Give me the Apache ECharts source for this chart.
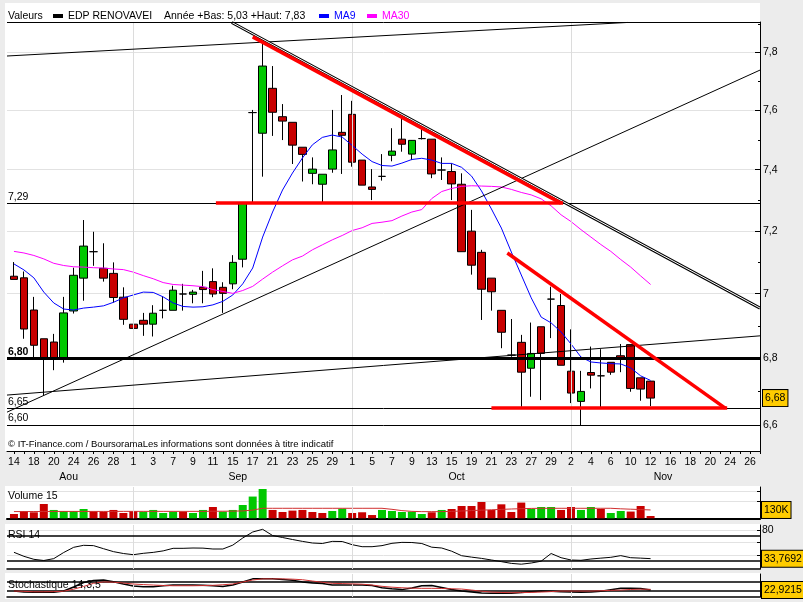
<!DOCTYPE html>
<html><head><meta charset="utf-8">
<script src="https://cdn.jsdelivr.net/npm/echarts@6/dist/echarts.min.js"></script>
<style>html,body{margin:0;padding:0;background:#ececec}#c{width:803px;height:602px}</style>
</head><body><div id="c"></div>
<script>
// ---- trading days (categories) ----
const dates = [
 '2009-08-14','2009-08-17','2009-08-18','2009-08-19','2009-08-20','2009-08-21','2009-08-24','2009-08-25','2009-08-26','2009-08-27','2009-08-28','2009-08-31',
 '2009-09-01','2009-09-02','2009-09-03','2009-09-04','2009-09-07','2009-09-08','2009-09-09','2009-09-10','2009-09-11','2009-09-14','2009-09-15','2009-09-16','2009-09-17','2009-09-18','2009-09-21','2009-09-22','2009-09-23','2009-09-24','2009-09-25','2009-09-28','2009-09-29','2009-09-30',
 '2009-10-01','2009-10-02','2009-10-05','2009-10-06','2009-10-07','2009-10-08','2009-10-09','2009-10-12','2009-10-13','2009-10-14','2009-10-15','2009-10-16','2009-10-19','2009-10-20','2009-10-21','2009-10-22','2009-10-23','2009-10-26','2009-10-27','2009-10-28','2009-10-29','2009-10-30',
 '2009-11-02','2009-11-03','2009-11-04','2009-11-05','2009-11-06','2009-11-09','2009-11-10','2009-11-11','2009-11-12','2009-11-13','2009-11-16','2009-11-17','2009-11-18','2009-11-19','2009-11-20','2009-11-23','2009-11-24','2009-11-25','2009-11-26','2009-11-27'
];
const monthNames = {'08':'Aou','09':'Sep','10':'Oct','11':'Nov'};

// ---- OHLC ----
const open  = [7.055,7.05,6.949,6.86,6.85,6.80,6.946,7.049,7.133,7.08, 7.064,6.989,6.905,6.917,6.905,6.948,6.948,6.999,6.998,7.02, 7.038,7.02,7.031,7.109,7.592,7.522,7.675,7.578,7.559,7.475, 7.388,7.352,7.402,7.525,7.586,7.432,7.343,7.378,7.448,7.502, 7.452,7.504,7.502,7.399,7.394,7.352,7.199,7.131,7.049,6.948, 6.81,6.849,6.77,6.897,6.983,6.963,6.761,6.67,6.757,6.747, 6.788,6.808,6.842,6.741,6.731];
const close = [7.045,6.89,6.84,6.80,6.80,6.94,7.058,7.151,7.133,7.049, 6.988,6.92,6.892,6.905,6.939,6.948,7.011,6.999,7.005,7.013, 6.999,7.001,7.099,7.29,7.592,7.752,7.593,7.563,7.482,7.451, 7.402,7.385,7.466,7.515,7.425,7.349,7.335,7.378,7.462,7.485, 7.498,7.504,7.386,7.399,7.353,7.133,7.09,7.014,7.006,6.88, 6.81,6.758,6.815,6.815,6.983,6.779,6.695,6.70,6.749,6.747, 6.758,6.798,6.709,6.707,6.68];
const low   = [7.045,6.86,6.80,6.687,6.764,6.787,6.938,6.978,7.088,7.038, 6.972,6.903,6.867,6.869,6.867,6.923,6.948,6.947,6.97,6.97, 6.989,6.94,7.014,7.083,7.29,7.377,7.513,7.499,7.419,7.361, 7.352,7.29,7.39,7.386,7.41,7.349,7.30,7.364,7.428,7.46, 7.432,7.501,7.372,7.366,7.30,7.133,7.06,6.918,6.947,6.831, 6.805,6.654,6.684,6.674,6.862,6.779,6.665,6.597,6.709,6.652, 6.75,6.758,6.699,6.672,6.656];
const high  = [7.10,7.07,6.99,6.86,6.875,6.99,7.082,7.235,7.197,7.16, 7.099,7.02,6.949,6.94,6.964,6.991,7.025,7.031,7.012,7.072, 7.08,7.036,7.122,7.29,7.601,7.83,7.752,7.621,7.559,7.475, 7.441,7.385,7.601,7.652,7.632,7.432,7.402,7.452,7.539,7.578, 7.499,7.539,7.502,7.441,7.421,7.388,7.268,7.139,7.049,6.948, 6.921,6.872,6.91,6.897,7.022,6.999,6.889,6.762,6.836,6.828, 6.788,6.844,6.842,6.741,6.731];

// ---- moving averages ----
const ma9  = [7.094,7.075,7.050,7.005,6.971,6.952,6.949,6.955,6.958,6.962, 6.973,6.987,6.996,7.005,7.004,6.990,6.971,6.960,6.958,6.959, 6.965,6.976,6.996,7.031,7.081,7.180,7.261,7.333,7.389,7.439, 7.483,7.508,7.516,7.509,7.481,7.452,7.427,7.414,7.412,7.422, 7.434,7.438,7.432,7.421,7.421,7.408,7.379,7.330,7.271,7.209, 7.132,7.059,6.987,6.927,6.909,6.881,6.844,6.804,6.789,6.786, 6.784,6.783,6.771,6.747,6.733];
const ma30 = [7.134,7.129,7.121,7.110,7.096,7.089,7.085,7.084,7.082,7.081, 7.078,7.076,7.068,7.057,7.047,7.035,7.029,7.027,7.025,7.022, 7.013,7.007,7.001,7.010,7.023,7.046,7.068,7.088,7.107,7.119, 7.139,7.155,7.171,7.185,7.201,7.210,7.224,7.228,7.233,7.248, 7.261,7.269,7.305,7.328,7.338,7.345,7.347,7.346,7.345,7.343, 7.335,7.325,7.317,7.304,7.281,7.252,7.230,7.204,7.180,7.156, 7.134,7.108,7.084,7.056,7.029];

// ---- volume (thousands) ----
const volume = [67,114,94,223,130,114,114,145,109,105, 130,83,114,105,130,83,105,105,83,130, 176,105,130,207,339,457,130,98,120,130, 98,83,114,151,83,94,51,130,114,98, 105,67,94,130,145,192,192,254,130,218, 98,245,145,176,176,130,176,130,176,145, 83,114,105,192,36];
const volMA15 = [105,105,106,106,107,107,107,107,107,107, 107,108,108,108,108,108,108,108,108,108, 110,110,112,115,128,156,156,156,156,156, 156,156,156,156,156,156,156,156,140,120, 108,104,104,104,108,114,120,127,133,139, 145,150,154,156,156,156,156,156,156,156, 156,148,142,136,130];

// ---- RSI 14 ----
const rsi14 = [43.9,37.5,32.7,30.8,33.8,43.6,51.9,55.1,54.6,49.7, 45.0,42.0,40.1,42.3,43.8,46.2,50.3,50.3,50.8,50.6, 49.2,49.2,55.4,66.8,76.4,80.7,70.8,67.6,64.4,61.4, 58.8,58.0,61.4,61.2,56.1,52.9,52.9,54.6,58.3,59.8, 59.6,58.0,52.1,50.8,45.7,38.5,36.2,34.2,31.6,29.0, 26.2,24.9,26.8,29.7,42.0,35.3,31.6,31.1,33.2,34.6, 35.9,38.6,35.3,34.6,33.7692];

// ---- Stochastique 14,3,5 ----
const stochK = [15,8,6,6,6,15,43,75,89,92, 80,64,50,45,45,52,57,57,57,56, 52,47,57,78,100,100,100,96,90,79, 72,68,57,57,57,57,54,38,31,25, 36,52,54,40,26,15,8,1,0,0, 0,5,10,15,13,10,8,6,8,14, 24,34,34,32,22.9215];
const stochD = [15,13,10,10,11,14,28,47,69,79, 77,71,64,60,57,54,52,52,52,53, 55,59,64,78,92,100,100,100,98,94, 85,76,69,67,65,63,57,48,42,38, 35,34,34,33,31,29,22,14,8,5, 3.5,4,5.6,8,11,15,15,15,15,17, 20,22,26,28,27];

// ---- axis ticks ----
const priceTicks = [6.6,6.8,7.0,7.2,7.4,7.6,7.8];
const priceMinorTicks = [6.6,6.7,6.8,6.9,7.0,7.1,7.2,7.3,7.4,7.5,7.6,7.7,7.8,7.9];
const rsiGridLines = [40,60,80];
const rsiLevels = [30,70];
const stochLevels = [20,80];
const volTicks = [260,420];

// ---- drawn annotations (date index, price) ----
const levels = [
  {price:7.29, label:'7,29', width:1},
  {price:6.80, label:'6,80', width:3},
  {price:6.65, label:'6,65', width:1},
  {price:6.60, label:'6,60', width:1}
];
const blackTrends = [
  [[-0.7,7.787],[61.7,7.905]],
  [[-0.7,6.638],[75,7.738]],
  [[-0.7,6.689],[75,6.869]]
];
const doubleTrends = [
  [[21.9,7.905],[75,6.955]]
];
const redTrends = [
  [[24,7.854],[55,7.29]],
  [[20.3,7.29],[55.2,7.29]],
  [[49.6,7.129],[71.5,6.65]],
  [[48,6.65],[71.7,6.65]]
];

// ---------------------------------------------------------------
const L = Math.log;
const FONT = '"Liberation Sans", Arial, sans-serif';
const GREEN = '#00c800', RED = '#c80000';
const xMin = -0.7, xMax = 75;
const yMin = L(6.5234), yMax = L(7.9066);
const allIdx = dates.map((d,i)=>i);
const evenIdx = allIdx.filter(i => i % 2 === 0);
const monthOf = i => dates[i].slice(5,7);
const monthStarts = allIdx.filter(i => i > 0 && monthOf(i) !== monthOf(i-1));
const months = [];
allIdx.forEach(i => {
  const m = monthOf(i);
  if (!months.length || months[months.length-1].m !== m) months.push({m, first:i, last:i});
  else months[months.length-1].last = i;
});
months.forEach(o => { o.pos = (Math.max(o.first-0.5, xMin) + Math.min(o.last+0.5, xMax)) / 2; });
const lastClose = close[close.length-1];

const candleData = open.map((o,i)=>[i, L(o), L(close[i]), L(low[i]), L(high[i])]);
const volData = volume.map((v,i)=>{
  const up = i === 0 ? close[0] >= open[0] : close[i] >= close[i-1];
  return {value:[i, v], itemStyle:{color: up ? GREEN : RED}};
});
const toPairs = arr => arr.map((v,i)=>[i, v]);
const trendData = (arr) => arr.map(seg => [{coord:[seg[0][0], L(seg[0][1])]}, {coord:[seg[1][0], L(seg[1][1])]}]);

const boxRich = {box:{backgroundColor:'#ffcc00', borderColor:'#000', borderWidth:1, padding:[3,2,2,2], color:'#000', fontSize:10.5, fontFamily:FONT}};

function monthLines(xi, yi){
  return {type:'line', xAxisIndex:xi, yAxisIndex:yi, data:[], z:1, silent:true,
    markLine:{silent:true, precision:10, symbol:['none','none'], animation:false, label:{show:false},
      lineStyle:{color:'#dcdcdc', width:1, type:'solid'},
      data: monthStarts.map(i=>({xAxis:i}))}};
}
function levelLines(xi, yi, vals, w){
  return {type:'line', xAxisIndex:xi, yAxisIndex:yi, data:[], z:2, silent:true,
    markLine:{silent:true, precision:10, symbol:['none','none'], animation:false, label:{show:false},
      lineStyle:{color:'#000', width:w, type:'solid'},
      data: vals.map(v=>({yAxis:v}))}};
}
function trendSeries(segs, color, width, z){
  return {type:'line', xAxisIndex:0, yAxisIndex:0, data:[], z:z, silent:true,
    markLine:{silent:true, precision:10, symbol:['none','none'], animation:false, label:{show:false},
      lineStyle:{color:color, width:width, type:'solid'}, data: trendData(segs)}};
}
const hiddenX = (gi, lw) => ({type:'value', gridIndex:gi, min:xMin, max:xMax, position:'bottom',
  axisLine:{show:true, onZero:false, lineStyle:{color:'#000', width:lw}}, axisTick:{show:false}, axisLabel:{show:false}, splitLine:{show:false}});

const grids = [
  {left:7, right:43, top:22, bottom:151},
  {left:7, right:43, top:487, height:31.3},
  {left:7, right:43, top:525, height:44},
  {left:7, right:43, top:574, height:23}
].map(g => Object.assign(g, {outerBoundsMode:'none', containLabel:false}));

const option = {
  animation:false,
  backgroundColor:'#ececec',
  textStyle:{fontFamily:FONT},
  grid: grids,
  xAxis: [
    {type:'value', gridIndex:0, min:xMin, max:xMax, position:'bottom',
     axisLine:{show:true, onZero:false, lineStyle:{color:'#000', width:1}},
     axisTick:{show:true, customValues:allIdx, length:3, lineStyle:{color:'#000'}},
     axisLabel:{show:true, customValues:evenIdx, margin:6, color:'#000', fontSize:10.5, fontFamily:FONT,
       formatter: v => String(parseInt(dates[Math.round(v)].slice(8),10))},
     splitLine:{show:false}},
    {type:'value', gridIndex:0, min:xMin, max:xMax, position:'bottom', offset:15,
     axisLine:{show:false, onZero:false}, axisTick:{show:false}, splitLine:{show:false},
     axisLabel:{show:true, customValues:months.map(o=>o.pos), margin:6, color:'#000', fontSize:10.5, fontFamily:FONT,
       formatter: v => { let best = months[0]; months.forEach(o=>{ if (Math.abs(o.pos-v) < Math.abs(best.pos-v)) best = o; }); return monthNames[best.m]; }}},
    hiddenX(1, 2),
    hiddenX(2, 1.5),
    hiddenX(3, 1.5)
  ],
  yAxis: [
    {type:'value', gridIndex:0, position:'right', min:yMin, max:yMax,
     axisLine:{show:true, onZero:false, lineStyle:{color:'#000', width:1}},
     axisTick:{show:true, inside:true, length:5, customValues:priceTicks.map(L), lineStyle:{color:'#000'}},
     axisLabel:{show:true, customValues:priceTicks.concat([lastClose]).map(L), margin:3, color:'#000', fontSize:10.5, fontFamily:FONT, rich:boxRich,
       formatter: v => { const p = Math.exp(v);
         if (Math.abs(p - lastClose) < 0.0005) return '{box|' + lastClose.toFixed(2).replace('.',',') + '}';
         const r = Math.round(p*10)/10; return (Number.isInteger(r) ? String(r) : r.toFixed(1)).replace('.',','); }},
     splitLine:{show:true, lineStyle:{color:'#e2e2e2', width:1}}},
    {type:'value', gridIndex:0, position:'right', min:yMin, max:yMax,
     axisLine:{show:false, onZero:false}, axisLabel:{show:false}, splitLine:{show:false},
     axisTick:{show:true, inside:true, length:2, customValues:priceMinorTicks.map(L), lineStyle:{color:'#000'}}},
    {type:'value', gridIndex:1, position:'right', min:0, max:488,
     axisLine:{show:true, onZero:false, lineStyle:{color:'#000'}},
     axisTick:{show:true, inside:true, length:3, customValues:volTicks, lineStyle:{color:'#000'}},
     axisLabel:{show:true, customValues:[volMA15[volMA15.length-1]], margin:2, rich:boxRich,
       formatter: v => '{box|' + Math.round(v) + 'K}'},
     splitLine:{show:true, lineStyle:{color:'#e2e2e2'}}},
    {type:'value', gridIndex:2, position:'right', min:17.2, max:87.6,
     axisLine:{show:true, onZero:false, lineStyle:{color:'#000'}},
     axisTick:{show:true, inside:true, length:3, customValues:rsiGridLines, lineStyle:{color:'#000'}},
     axisLabel:{show:true, customValues:[80, rsi14[rsi14.length-1]], margin:2, color:'#000', fontSize:10.5, fontFamily:FONT, rich:boxRich,
       formatter: v => v === 80 ? '80' : '{box|' + v.toFixed(4).replace('.',',') + '}'},
     splitLine:{show:true, lineStyle:{color:'#e2e2e2'}}},
    {type:'value', gridIndex:3, position:'right', min:-26.5, max:134,
     axisLine:{show:true, onZero:false, lineStyle:{color:'#000'}},
     axisTick:{show:false},
     axisLabel:{show:true, customValues:[stochK[stochK.length-1]], margin:2, rich:boxRich,
       formatter: v => '{box|' + v.toFixed(4).replace('.',',') + '}'},
     splitLine:{show:false}}
  ],
  series: [
    monthLines(0,0), monthLines(2,2), monthLines(3,3), monthLines(4,4),
    {type:'candlestick', name:'EDP RENOVAVEI', xAxisIndex:0, yAxisIndex:0, z:3,
     encode:{x:0, y:[1,2,3,4]}, barWidth:8, clip:false,
     itemStyle:{color:GREEN, color0:RED, borderColor:'#000', borderColor0:'#000', borderColorDoji:'#000', borderWidth:1},
     data:candleData},
    {type:'line', name:'MA9', xAxisIndex:0, yAxisIndex:0, z:4, showSymbol:false, symbol:'none',
     lineStyle:{color:'#0000ff', width:1}, data: ma9.map((v,i)=>[i, L(v)])},
    {type:'line', name:'MA30', xAxisIndex:0, yAxisIndex:0, z:4, showSymbol:false, symbol:'none',
     lineStyle:{color:'#ff00ff', width:1}, data: ma30.map((v,i)=>[i, L(v)])},
    {type:'line', xAxisIndex:0, yAxisIndex:0, data:[], z:5, silent:true,
     markLine:{silent:true, precision:10, symbol:['none','none'], animation:false,
       data: levels.map(l=>({yAxis:L(l.price),
         lineStyle:{color:'#000', width:l.width, type:'solid'},
         label:{show:true, formatter:l.label, position:'insideStartTop', distance:[1,1], color:'#000', fontSize:10.5, fontFamily:FONT, fontWeight: l.width > 1 ? 'bold' : 'normal'}}))}},
    trendSeries(blackTrends, '#000', 1, 5),
    trendSeries(doubleTrends, '#000', 3, 5),
    trendSeries(doubleTrends, '#fff', 1, 6),
    trendSeries(redTrends, '#ff0000', 3.5, 7),
    // volume
    {type:'bar', name:'Volume', xAxisIndex:2, yAxisIndex:2, barWidth:8, z:3, data:volData},
    {type:'line', name:'Volume 15', xAxisIndex:2, yAxisIndex:2, z:4, showSymbol:false, symbol:'none',
     lineStyle:{color:'#d03030', width:1}, data: toPairs(volMA15)},
    // RSI
    levelLines(3,3,rsiLevels,1.5),
    {type:'line', name:'RSI 14', xAxisIndex:3, yAxisIndex:3, z:4, showSymbol:false, symbol:'none',
     lineStyle:{color:'#000', width:1}, data: toPairs(rsi14)},
    // Stochastic
    levelLines(4,4,stochLevels,1.5),
    {type:'line', name:'%K', xAxisIndex:4, yAxisIndex:4, z:4, showSymbol:false, symbol:'none',
     lineStyle:{color:'#000', width:1.5}, data: toPairs(stochK)},
    {type:'line', name:'%D', xAxisIndex:4, yAxisIndex:4, z:5, showSymbol:false, symbol:'none',
     lineStyle:{color:'#d03030', width:1}, data: toPairs(stochD)}
  ],
  graphic:{elements:[
    {type:'rect', z:-10, silent:true, shape:{x:5,y:3,width:755,height:448}, style:{fill:'#fff'}},
    {type:'rect', z:-10, silent:true, shape:{x:5,y:486,width:755,height:33}, style:{fill:'#fff'}},
    {type:'rect', z:-10, silent:true, shape:{x:5,y:524,width:755,height:46}, style:{fill:'#fff'}},
    {type:'rect', z:-10, silent:true, shape:{x:5,y:573,width:755,height:26}, style:{fill:'#fff'}},
    {type:'line', z:10, silent:true, shape:{x1:7,y1:22.5,x2:760,y2:22.5}, style:{stroke:'#000', lineWidth:1}},
    {type:'text', z:10, x:8, y:16, style:{text:'Valeurs', fill:'#000', fontSize:10.5, fontFamily:FONT, verticalAlign:'middle'}},
    {type:'rect', z:10, shape:{x:53,y:14,width:10,height:4}, style:{fill:'#000'}},
    {type:'text', z:10, x:68, y:16, style:{text:'EDP RENOVAVEI', fill:'#000', fontSize:10.5, fontFamily:FONT, verticalAlign:'middle'}},
    {type:'text', z:10, x:164, y:16, style:{text:'Année +Bas: 5,03 +Haut: 7,83', fill:'#000', fontSize:10.5, fontFamily:FONT, verticalAlign:'middle'}},
    {type:'rect', z:10, shape:{x:319,y:14,width:10,height:4}, style:{fill:'#0000ff'}},
    {type:'text', z:10, x:334, y:16, style:{text:'MA9', fill:'#0000ff', fontSize:10.5, fontFamily:FONT, verticalAlign:'middle'}},
    {type:'rect', z:10, shape:{x:367,y:14,width:10,height:4}, style:{fill:'#ff00ff'}},
    {type:'text', z:10, x:382, y:16, style:{text:'MA30', fill:'#ff00ff', fontSize:10.5, fontFamily:FONT, verticalAlign:'middle'}},
    {type:'text', z:10, x:8, y:444, style:{text:'© IT-Finance.com / BoursoramaLes informations sont données à titre indicatif', fill:'#000', fontSize:9.5, fontFamily:FONT, verticalAlign:'middle'}},
    {type:'text', z:10, x:8, y:496, style:{text:'Volume 15', fill:'#000', fontSize:10.5, fontFamily:FONT, verticalAlign:'middle'}},
    {type:'text', z:10, x:8, y:535, style:{text:'RSI 14', fill:'#000', fontSize:10.5, fontFamily:FONT, verticalAlign:'middle'}},
    {type:'text', z:10, x:8, y:585, style:{text:'Stochastique 14,3,5', fill:'#000', fontSize:10.5, fontFamily:FONT, verticalAlign:'middle'}}
  ]}
};
const chart = echarts.init(document.getElementById('c'), null, {renderer:'canvas'});
chart.setOption(option);
</script></body></html>
